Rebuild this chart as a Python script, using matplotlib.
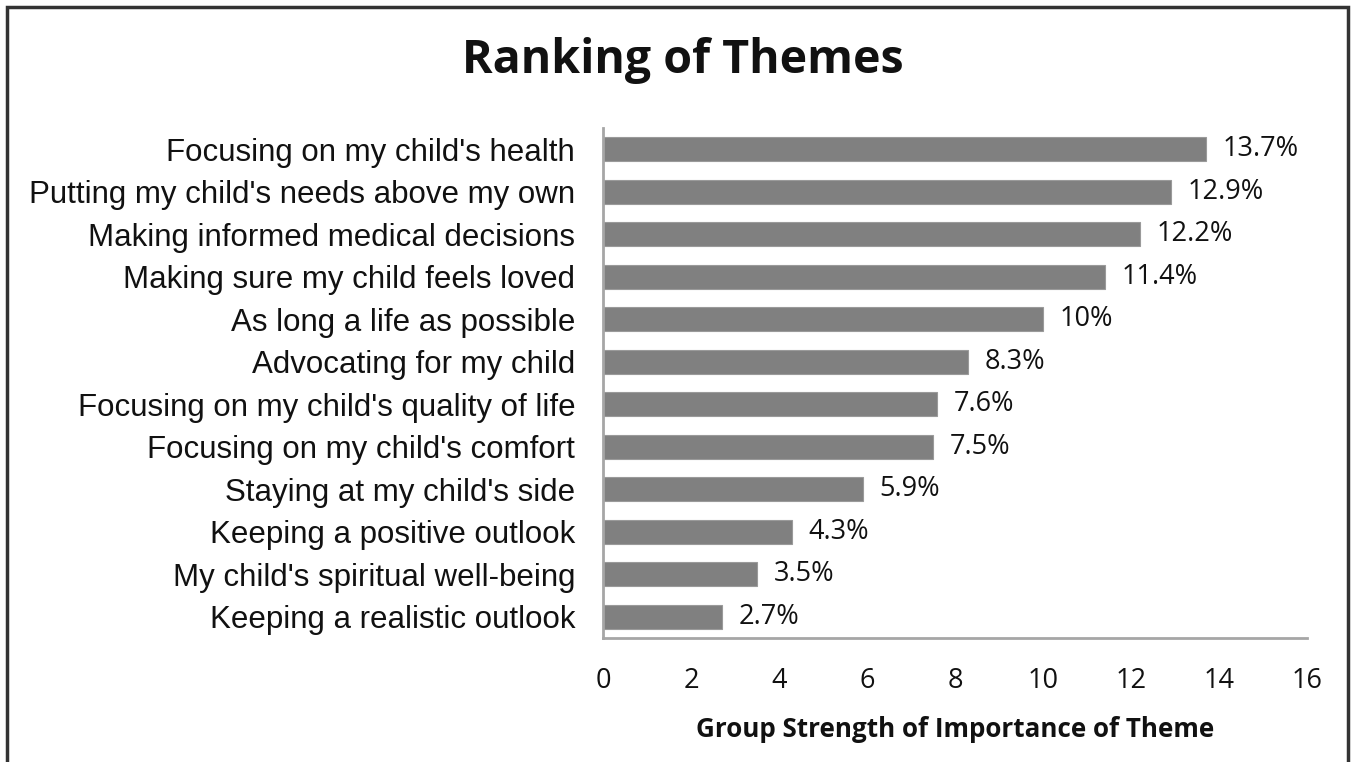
import matplotlib
matplotlib.use("Agg")
import matplotlib.pyplot as plt
from matplotlib.patches import Rectangle

themes = [
    "Focusing on my child's health",
    "Putting my child's needs above my own",
    "Making informed medical decisions",
    "Making sure my child feels loved",
    "As long a life as possible",
    "Advocating for my child",
    "Focusing on my child's quality of life",
    "Focusing on my child's comfort",
    "Staying at my child's side",
    "Keeping a positive outlook",
    "My child's spiritual well-being",
    "Keeping a realistic outlook",
]
values = [13.7, 12.9, 12.2, 11.4, 10.0, 8.3, 7.6, 7.5, 5.9, 4.3, 3.5, 2.7]
value_labels = ["13.7%", "12.9%", "12.2%", "11.4%", "10%", "8.3%", "7.6%",
                "7.5%", "5.9%", "4.3%", "3.5%", "2.7%"]
xticks = [0, 2, 4, 6, 8, 10, 12, 14, 16]

fig = plt.figure(figsize=(13.52, 7.62), dpi=100)
fig.patch.set_facecolor("white")
fig.patches.append(Rectangle((7/1352, -0.01), (1348-7)/1352, 1 - 7/762 + 0.01,
                             transform=fig.transFigure, fill=False,
                             edgecolor="#333333", linewidth=2.5))

ax = fig.add_axes([603/1352, 1 - 638/762, (1307-603)/1352, (638-128)/762])
ypos = list(range(len(themes)))
ax.barh(ypos, values, height=0.56, color="#808080", edgecolor="#9a9a9a", linewidth=0.8)
ax.set_ylim(len(themes) - 0.5, -0.5)
ax.set_xlim(0, 16)

for y, v, lab in zip(ypos, values, value_labels):
    ax.annotate(lab, (v, y), xytext=(12, 0), textcoords="offset points",
                va="center", ha="left", fontsize=19.5, family="Open Sans", color="#111111")

ax.set_yticks(ypos)
ax.set_yticklabels(themes, family="Liberation Sans", fontsize=22.5, color="#111111")
ax.set_xticks(xticks)
ax.set_xticklabels([str(t) for t in xticks], family="Open Sans", fontsize=19.5, color="#111111")
ax.tick_params(axis="both", length=0)
ax.tick_params(axis="x", pad=21)
ax.tick_params(axis="y", pad=20)

for s in ["top", "right"]:
    ax.spines[s].set_visible(False)
for s in ["left", "bottom"]:
    ax.spines[s].set_color("#a6a6a6")
    ax.spines[s].set_linewidth(2)

ax.set_xlabel("Group Strength of Importance of Theme", family="Open Sans",
              fontsize=18.7, fontweight="bold", labelpad=15, color="#111111")

fig.text(0.505, 1 - 61/762, "Ranking of Themes", ha="center", va="center",
         family="Open Sans", fontsize=33.5, fontweight="bold", color="#111111")

fig.savefig("out.png", dpi=100)
